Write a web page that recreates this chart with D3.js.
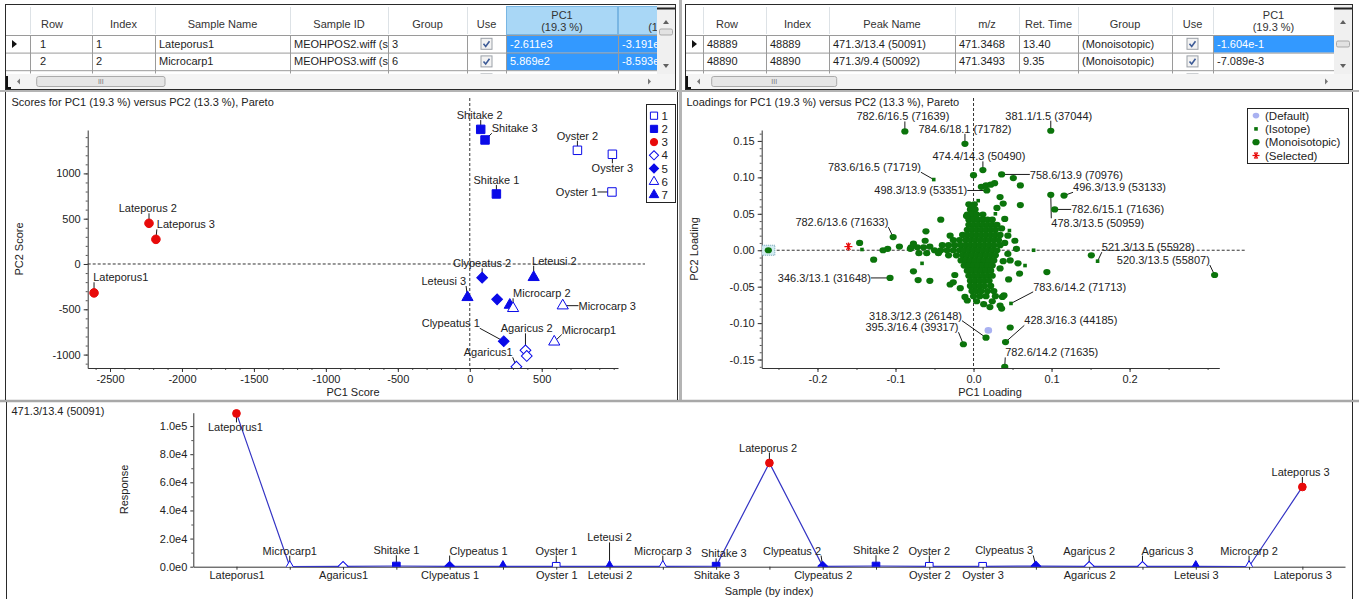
<!DOCTYPE html>
<html>
<head>
<meta charset="utf-8">
<script src="https://cdn.jsdelivr.net/npm/d3@7"></script>
<style>
  body { margin: 0; background: #fff; }
  svg { display: block; }
</style>
</head>
<body>
<svg id="chart" width="1359" height="599"></svg>
<script>
// ---------- data ----------
const sampleNames = ["Lateporus1", "Microcarp1", "Agaricus1", "Shitake 1", "Clypeatus 1", "Leteusi 1", "Oyster 1",
  "Leteusi 2", "Microcarp 3", "Shitake 3", "Lateporus 2", "Clypeatus 2", "Shitake 2", "Oyster 2", "Oyster 3",
  "Clypeatus 3", "Agaricus 2", "Agaricus 3", "Leteusi 3", "Microcarp 2", "Lateporus 3"];
const sampleGroups = [3, 6, 4, 2, 5, 7, 1, 7, 6, 2, 3, 5, 2, 1, 1, 5, 4, 4, 7, 6, 3];
const pc1Scores = [-2611, 587, 324, 185, 236, 278, 988, 444, 646, 106, -2229, 86, 76, 748, 991, 190, 387, 396, -16, 301, -2181];
const pc2Scores = [-319, -859, -1133, 773, -853, -453, 795, -147, -460, 1369, 449, -151, 1486, 1255, 1211, -390, -953, -1015, -368, -489, 272];
const responses = [109000, 150, 250, 500, 300, 200, 300, 200, 250, 400, 73800, 300, 500, 300, 300, 400, 250, 250, 200, 150, 56700];
const groupKeys = [1, 2, 3, 4, 5, 6, 7];

const scoreTicksX = [-2500, -2000, -1500, -1000, -500, 0, 500];
const scoreTicksY = [-1000, -500, 0, 500, 1000];
const loadTicksX = [-0.2, -0.1, 0, 0.1, 0.2];
const loadTicksY = [-0.15, -0.1, -0.05, 0, 0.05, 0.1, 0.15];
const respTicks = [0, 20000, 40000, 60000, 80000, 100000];
const sampleTickIdx = [1, 3, 5, 7, 8, 10, 12, 14, 15, 17, 19, 21];

// labelled loadings: name, PC1, PC2, kind (m = monoisotopic, i = isotope)
const namedLoadings = [
  ["782.6/16.5 (71639)", -0.088, 0.163, "m"],
  ["784.6/18.1 (71782)", -0.011, 0.146, "m"],
  ["381.1/1.5 (37044)", 0.099, 0.164, "m"],
  ["474.4/14.3 (50490)", 0.012, 0.110, "m"],
  ["783.6/16.5 (71719)", -0.051, 0.097, "i"],
  ["498.3/13.9 (53351)", 0.017, 0.082, "m"],
  ["758.6/13.9 (70976)", 0.036, 0.104, "m"],
  ["496.3/13.9 (53133)", 0.116, 0.075, "m"],
  ["782.6/15.1 (71636)", 0.104, 0.056, "m"],
  ["478.3/13.5 (50959)", 0.099, 0.076, "m"],
  ["782.6/13.6 (71633)", -0.103, 0.018, "m"],
  ["346.3/13.1 (31648)", -0.107, -0.038, "m"],
  ["521.3/13.5 (55928)", 0.159, -0.015, "i"],
  ["520.3/13.5 (55807)", 0.309, -0.034, "m"],
  ["783.6/14.2 (71713)", 0.048, -0.073, "i"],
  ["428.3/16.3 (44185)", 0.041, -0.126, "m"],
  ["782.6/14.2 (71635)", 0.040, -0.160, "m"],
  ["318.3/12.3 (26148)", 0.016, -0.120, "m"],
  ["395.3/16.4 (39317)", -0.013, -0.129, "m"]
];

// scattered unlabelled loadings
const otherLoadings = [
  [-0.263, 0.000, "m"], [-0.146, 0.010, "m"], [-0.143, 0.001, "i"], [-0.128, -0.013, "m"], [-0.116, 0.000, "m"],
  [-0.110, 0.002, "m"], [-0.095, 0.005, "m"], [-0.081, 0.002, "m"], [-0.077, 0.009, "m"], [-0.062, 0.013, "m"],
  [-0.061, 0.026, "m"], [-0.056, 0.005, "m"], [-0.042, 0.042, "m"], [-0.077, -0.029, "m"], [-0.071, -0.041, "m"],
  [-0.056, -0.042, "m"], [-0.066, -0.018, "i"], [-0.030, -0.047, "m"], [-0.024, -0.034, "m"], [-0.011, -0.064, "m"],
  [-0.008, -0.069, "m"], [0.013, -0.074, "m"], [0.021, -0.078, "m"], [0.034, -0.076, "m"], [0.037, -0.064, "m"],
  [0.000, 0.103, "m"], [0.010, 0.087, "m"], [0.016, 0.089, "m"], [0.022, 0.090, "m"], [0.027, 0.092, "m"],
  [0.051, 0.099, "m"], [0.060, 0.089, "m"], [0.060, 0.062, "m"], [0.038, 0.064, "m"], [0.040, 0.043, "m"],
  [0.046, 0.027, "i"], [0.053, 0.013, "m"], [0.055, 0.002, "m"], [0.077, 0.000, "i"], [0.047, -0.014, "m"],
  [0.057, -0.018, "m"], [0.066, -0.021, "i"], [0.059, -0.032, "m"], [0.094, -0.030, "m"], [0.039, -0.062, "m"],
  [0.036, -0.080, "m"], [0.047, -0.106, "m"], [0.151, -0.007, "m"], [0.034, 0.073, "m"], [0.006, 0.068, "i"],
  [-0.009, 0.047, "m"], [-0.002, 0.059, "m"], [0.028, 0.050, "i"], [0.030, 0.058, "m"], [-0.030, 0.020, "m"],
  [0.044, 0.020, "m"], [0.044, -0.005, "m"], [0.045, -0.040, "m"], [0.040, 0.010, "m"], [0.038, -0.015, "m"],
  [0.036, 0.030, "m"], [0.034, -0.025, "m"], [-0.017, -0.052, "m"], [-0.026, -0.044, "m"]
];

// dense centre of the loadings cloud, row by row: [PC2, [PC1 values]]
const coreLoadingRows = [
  [0.063, [-0.006, 0.001]],
  [0.056, [-0.004, 0.002]],
  [0.049, [-0.008, -0.002, 0.004, 0.012]],
  [0.042, [-0.006, 0.000, 0.006, 0.012, 0.018, 0.024]],
  [0.035, [-0.006, 0.000, 0.006, 0.012, 0.018, 0.024, 0.030]],
  [0.028, [-0.008, -0.002, 0.004, 0.010, 0.016, 0.022, 0.028]],
  [0.021, [-0.014, -0.008, -0.002, 0.004, 0.010, 0.016, 0.022, 0.028, 0.034]],
  [0.014, [-0.026, -0.018, -0.010, -0.004, 0.002, 0.008, 0.014, 0.020, 0.026, 0.032]],
  [0.007, [-0.040, -0.032, -0.024, -0.016, -0.010, -0.004, 0.002, 0.008, 0.014, 0.020, 0.026, 0.034]],
  [0.004, [-0.080, -0.072, -0.064]],
  [0.000, [-0.050, -0.042, -0.034, -0.026, -0.018, -0.012, -0.006, 0.000, 0.006, 0.012, 0.018, 0.024, 0.030]],
  [-0.004, [-0.070, -0.060, -0.045]],
  [-0.007, [-0.032, -0.022, -0.014, -0.008, -0.002, 0.004, 0.010, 0.016, 0.022, 0.028]],
  [-0.014, [-0.016, -0.010, -0.004, 0.002, 0.008, 0.014, 0.020, 0.026]],
  [-0.021, [-0.012, -0.006, 0.000, 0.006, 0.012, 0.018, 0.024]],
  [-0.028, [-0.008, -0.002, 0.004, 0.010, 0.016, 0.022]],
  [-0.035, [-0.006, 0.000, 0.006, 0.012, 0.018, 0.024]],
  [-0.042, [-0.004, 0.002, 0.008, 0.014, 0.020]],
  [-0.049, [-0.004, 0.002, 0.008, 0.014, 0.022]],
  [-0.056, [-0.002, 0.004, 0.010, 0.018, 0.026]],
  [-0.063, [0.000, 0.008, 0.016, 0.028]],
  [-0.070, [0.004, 0.024]]
];
const defaultLoading = [0.019, -0.110];
const selectedLoading = [-0.1604, 0.005];
const loadingKinds = ["(Default)", "(Isotope)", "(Monoisotopic)", "(Selected)"];

const sampleHeaders = ["", "Row", "Index", "Sample Name", "Sample ID", "Group", "Use", "PC1\n(19.3 %)", "PC2\n(13.3 %)"];
const sampleRows = [
  ["1", "1", "Lateporus1", "MEOHPOS2.wiff (s", "3", true, "-2.611e3", "-3.191e2"],
  ["2", "2", "Microcarp1", "MEOHPOS3.wiff (s", "6", true, "5.869e2", "-8.593e2"]
];
const peakHeaders = ["", "Row", "Index", "Peak Name", "m/z", "Ret. Time", "Group", "Use", "PC1\n(19.3 %)"];
const peakRows = [
  ["48889", "48889", "471.3/13.4 (50091)", "471.3468", "13.40", "(Monoisotopic)", true, "-1.604e-1"],
  ["48890", "48890", "471.3/9.4 (50092)", "471.3493", "9.35", "(Monoisotopic)", true, "-7.089e-3"]
];

// ---------- layout (label offsets in px from their point) ----------
const scoreLabelPos = {
  "Lateporus1": [26.7, -15.6], "Lateporus 2": [-1.2, -15], "Lateporus 3": [30, -15],
  "Shitake 2": [-1, -14.3], "Shitake 3": [29.7, -11.7], "Oyster 2": [0, -14.6], "Oyster 3": [0, 14],
  "Shitake 1": [0, -14], "Oyster 1": [-35.3, 0], "Clypeatus 2": [0, -14.4], "Leteusi 2": [20.7, -16.6],
  "Leteusi 3": [-23.7, -16.3], "Microcarp 2": [28.7, -15], "Microcarp 3": [44.5, 0], "Clypeatus 1": [-53, -18],
  "Agaricus 2": [1.3, -22], "Microcarp1": [34.7, -12.3], "Agaricus1": [-28.2, -14.4]
};
const loadLabelPos = [[-2, -15], [0, -15], [-2, -15], [-4, -13.7], [-59.3, -12.3], [-66, 0], [74.7, 1], [55.5, -8.3],
  [63, -0.7], [47, 28.4], [-51.3, -15], [-65.7, 0], [50.7, -14], [-51.3, -15], [68.7, -16.6], [65.3, -21.7],
  [47, -14.4], [-70.5, -22], [-51.4, -17]];
const respLabelPos = { 1: [-1, 14], 2: [0, -15.7], 4: [0, -15.7], 5: [29, -15.7], 7: [0, -15.7], 8: [0, -29],
  9: [0, -15.7], 10: [7.7, -12.7], 11: [-1.3, -15.4], 12: [-30.7, -15.7], 13: [0, -15.7], 14: [0, -15.7],
  16: [-31.7, -15.7], 17: [0, -15.7], 18: [25, -15.7], 20: [0, -15.7], 21: [-1.7, -15] };

const FONT = '"Liberation Sans", Arial, Helvetica, sans-serif';
const BLUE = "#0a0ae8", RED = "#e80a0a", GREEN = "#0b740b";
const svg = d3.select("#chart").attr("font-family", FONT);
svg.append("rect").attr("width", 1359).attr("height", 599).attr("fill", "#fff");
const defs = svg.append("defs");

function txt(parent, x, y, s, anchor = "start", size = 11, fill = "#222") {
  return parent.append("text").attr("x", x).attr("y", y).attr("font-size", size)
    .attr("fill", fill).attr("text-anchor", anchor).attr("dominant-baseline", "central").text(s);
}

function clip(id, x, y, w, h) {
  defs.append("clipPath").attr("id", id).append("rect").attr("x", x).attr("y", y).attr("width", w).attr("height", h);
  return `url(#${id})`;
}

function drawAxis(parent, orient, scale, pos, major, fmt, minor, size = 4) {
  const mk = orient === "bottom" ? d3.axisBottom : d3.axisLeft;
  const tr = orient === "bottom" ? `translate(0,${pos})` : `translate(${pos},0)`;
  if (minor) {
    const m = parent.append("g").attr("transform", tr)
      .call(mk(scale).tickValues(minor).tickSize(2).tickFormat("").tickSizeOuter(0));
    m.select(".domain").remove();
    m.selectAll("line").attr("stroke", "#555");
  }
  const g = parent.append("g").attr("transform", tr)
    .call(mk(scale).tickValues(major).tickFormat(fmt).tickSize(size).tickPadding(3).tickSizeOuter(0));
  g.attr("font-family", FONT).attr("font-size", 11);
  g.select(".domain").attr("stroke", "#333");
  g.selectAll(".tick line").attr("stroke", "#333");
  g.selectAll(".tick text").attr("fill", "#222");
  return g;
}

const groupStyle = {
  1: { shape: "square", filled: false }, 2: { shape: "square", filled: true },
  3: { shape: "circle", filled: true, color: RED }, 4: { shape: "diamond", filled: false },
  5: { shape: "diamond", filled: true }, 6: { shape: "triangle", filled: false },
  7: { shape: "triangle", filled: true }
};
function marker(parent, grp, x, y, k = 1) {
  const st = groupStyle[grp];
  const col = st.color || BLUE;
  let d, rot = 0;
  if (st.shape === "square") d = d3.symbol(d3.symbolSquare, 72 * k * k)();
  else if (st.shape === "circle") d = d3.symbol(d3.symbolCircle, 58 * k * k)();
  else if (st.shape === "diamond") { d = d3.symbol(d3.symbolSquare, 58 * k * k)(); rot = 45; }
  else d = d3.symbol(d3.symbolTriangle, 54 * k * k)();
  parent.append("path").attr("d", d).attr("transform", `translate(${x},${y}) rotate(${rot})`)
    .attr("fill", st.filled ? col : "#fff").attr("stroke", col).attr("stroke-width", 1);
}

// label with a leader line from the point to the nearest edge of the text
function callout(labelLayer, leaderLayer, px, py, s, off) {
  const t = txt(labelLayer, px + off[0], py + off[1], s, "middle");
  const b = t.node().getBBox();
  const nx = Math.max(b.x, Math.min(px, b.x + b.width));
  const ny = Math.max(b.y + 1, Math.min(py, b.y + b.height - 1));
  if (Math.hypot(nx - px, ny - py) > 2) {
    leaderLayer.append("line").attr("x1", px).attr("y1", py).attr("x2", nx).attr("y2", ny)
      .attr("stroke", "#1a1a1a").attr("stroke-width", 1);
  }
}

// ---------- tables ----------
function drawTable(t) {
  const g = svg.append("g");
  const x0 = t.edges[0], right = t.viewRight;
  const body = g.append("g").attr("clip-path", clip("tc" + t.id, x0, 5, right - x0, 68.5));
  const hdrBot = 35, rowH = 17.6;
  t.headers.forEach((h, i) => {
    const a = t.edges[i], b = t.edges[i + 1];
    const hi = t.hiHeader.includes(i);
    body.append("rect").attr("x", a + 0.5).attr("y", 6.5).attr("width", b - a - 1).attr("height", hdrBot - 7)
      .attr("fill", hi ? "#a9d7f6" : "#fff").attr("stroke", hi ? "#79b6e3" : "none");
    if (i > 0 && !hi) body.append("line").attr("x1", a + 0.5).attr("x2", a + 0.5).attr("y1", 7).attr("y2", 34)
      .attr("stroke", "#dde2e6");
    const lines = h.split("\n");
    const cx = (t.headerCx && t.headerCx[i] != null) ? t.headerCx[i] : (a + b) / 2;
    lines.forEach((ln, k) => txt(body, cx, lines.length > 1 ? 15 + k * 11.5 : 24, ln, "middle", 11, "#333"));
  });
  const rows = t.rows.concat([[]]);
  rows.forEach((row, ri) => {
    const y0 = hdrBot + ri * rowH;
    if (ri === 0) body.append("path").attr("d", `M${x0 + 7},${y0 + 5} l5,4 l-5,4 z`).attr("fill", "#111");
    for (let c = 1; c < t.edges.length - 1; c++) {
      const a = t.edges[c], b = t.edges[c + 1];
      const v = row[c - 1];
      const hi = (t.hiCells[ri] || []).includes(c);
      if (hi) body.append("rect").attr("x", a).attr("y", y0).attr("width", b - a).attr("height", rowH).attr("fill", "#3399ff");
      if (v === true || (ri === rows.length - 1 && t.headers[c] === "Use")) {
        const cx = (a + b) / 2, cy = y0 + rowH / 2;
        body.append("rect").attr("x", cx - 5.5).attr("y", cy - 5.5).attr("width", 11).attr("height", 11)
          .attr("fill", "#f3f3f3").attr("stroke", "#9ba1a8");
        if (v === true) body.append("path").attr("d", `M${cx - 3},${cy} l2.2,2.6 l3.8,-5.2`).attr("fill", "none")
          .attr("stroke", "#3d5b97").attr("stroke-width", 1.6);
      } else if (v != null) {
        const pad = (t.pad && t.pad[c]) || 4;
        txt(body, a + pad, y0 + rowH / 2, v, "start", 11, hi ? "#fff" : "#1e1e1e");
      }
    }
    body.append("line").attr("x1", x0).attr("x2", right).attr("y1", y0 + 0.5).attr("y2", y0 + 0.5).attr("stroke", "#9a9a9a");
  });
  t.edges.slice(1, -1).forEach(e => body.append("line").attr("x1", e + 0.5).attr("x2", e + 0.5)
    .attr("y1", hdrBot).attr("y2", 74).attr("stroke", "#9a9a9a"));

  // vertical scrollbar
  const vs = g.append("g");
  vs.append("rect").attr("x", right).attr("y", 5).attr("width", 18).attr("height", 69).attr("fill", "#f0f0f0");
  vs.append("path").attr("d", `M${right + 6},${t.upY + 2} l3,-4 l3,4 z`).attr("fill", "#606060");
  vs.append("path").attr("d", `M${right + 6},${64} l3,4 l3,-4 z`).attr("fill", "#606060");
  vs.append("rect").attr("x", right + 2.5).attr("y", t.thumbY).attr("width", 13).attr("height", 6).attr("rx", 1.5)
    .attr("fill", "#e2e2e2").attr("stroke", "#a9a9a9");
  vs.append("line").attr("x1", right).attr("x2", right + 18).attr("y1", 8.5).attr("y2", 8.5).attr("stroke", "#222").attr("stroke-width", 2);

  // horizontal scrollbar
  const hs = g.append("g");
  hs.append("rect").attr("x", x0 + 1).attr("y", 74).attr("width", right + 18 - x0 - 1).attr("height", 15).attr("fill", "#f4f4f4");
  hs.append("path").attr("d", `M${x0 + 12},81.5 l3,-3 l0,6 z`).attr("fill", "#777");
  hs.append("path").attr("d", `M${right - 6},81.5 l-3,-3 l0,6 z`).attr("fill", "#777");
  hs.append("rect").attr("x", t.hThumb[0]).attr("y", 76.5).attr("width", t.hThumb[1] - t.hThumb[0]).attr("height", 10)
    .attr("rx", 2).attr("fill", "#e6e6e6").attr("stroke", "#ababab");
  txt(hs, (t.hThumb[0] + t.hThumb[1]) / 2, 81.5, "III", "middle", 7, "#777");
  hs.append("path").attr("d", `M${x0 + 2},76 L${x0 + 2},88 L${x0 + 6},88`).attr("fill", "none").attr("stroke", "#111").attr("stroke-width", 2);

  // frame
  g.append("rect").attr("x", x0 + 0.5).attr("y", 4.5).attr("width", right + 18 - x0).attr("height", 85)
    .attr("fill", "none").attr("stroke", "#2a2a2a");
}

drawTable({
  id: "s", edges: [5, 30, 92, 155, 290, 388, 467, 506, 618, 720], viewRight: 657,
  headers: sampleHeaders, rows: sampleRows, hiHeader: [7, 8], hiCells: { 0: [7, 8], 1: [7, 8] },
  headerCx: { 1: 52 }, pad: { 1: 10 }, upY: 22, thumbY: 29, hThumb: [36.7, 165]
});
drawTable({
  id: "p", edges: [685, 703, 766, 829, 955, 1019, 1078, 1172, 1213, 1334], viewRight: 1334,
  headers: peakHeaders, rows: peakRows, hiHeader: [], hiCells: { 0: [8] },
  headerCx: { 1: 727 }, upY: 22, thumbY: 41, hThumb: [711.7, 836.7]
});

// ---------- pane frames ----------
const frame = svg.append("g").attr("stroke-width", 1).attr("fill", "none");
frame.append("line").attr("x1", 0).attr("x2", 1359).attr("y1", 91).attr("y2", 91).attr("stroke", "#b4b4b4").attr("stroke-width", 2);
frame.append("line").attr("x1", 680.5).attr("x2", 680.5).attr("y1", 0).attr("y2", 401).attr("stroke", "#b4b4b4").attr("stroke-width", 3);
frame.append("line").attr("x1", 0).attr("x2", 1359).attr("y1", 401).attr("y2", 401).attr("stroke", "#a8a8a8").attr("stroke-width", 2.5);
frame.append("line").attr("x1", 5.5).attr("x2", 5.5).attr("y1", 92).attr("y2", 400).attr("stroke", "#2a2a2a");
frame.append("line").attr("x1", 677.5).attr("x2", 677.5).attr("y1", 92).attr("y2", 400).attr("stroke", "#2a2a2a");
frame.append("line").attr("x1", 1352.5).attr("x2", 1352.5).attr("y1", 92).attr("y2", 400).attr("stroke", "#2a2a2a");
frame.append("line").attr("x1", 6.5).attr("x2", 6.5).attr("y1", 402).attr("y2", 599).attr("stroke", "#2a2a2a");
frame.append("line").attr("x1", 1352.5).attr("x2", 1352.5).attr("y1", 402).attr("y2", 599).attr("stroke", "#2a2a2a");

// ---------- scores plot ----------
const sc = svg.append("g");
txt(sc, 11.5, 101.5, "Scores for PC1 (19.3 %) versus PC2 (13.3 %), Pareto");
const sx = d3.scaleLinear().domain([-2655, 1030]).range([87.7, 618]);
const sy = d3.scaleLinear().domain([-1148, 1479]).range([368, 130]);
drawAxis(sc, "bottom", sx, 368, scoreTicksX, d => String(d), d3.range(-2600, 1001, 100));
drawAxis(sc, "left", sy, 87.7, scoreTicksY, d => String(d), d3.range(-1100, 1401, 100));
txt(sc, 353, 391.5, "PC1 Score", "middle");
txt(sc, 0, 0, "PC2 Score", "middle").attr("transform", "translate(18.5,249) rotate(-90)");
sc.append("line").attr("x1", 87.7).attr("x2", 645).attr("y1", sy(0)).attr("y2", sy(0))
  .attr("stroke", "#333").attr("stroke-dasharray", "3,2");
sc.append("line").attr("x1", sx(0)).attr("x2", sx(0)).attr("y1", 98).attr("y2", 368)
  .attr("stroke", "#333").attr("stroke-dasharray", "3,2");
const scLead = sc.append("g");
const scPts = sc.append("g").attr("clip-path", clip("scClip", 88, 96, 557, 272));
const scLab = sc.append("g");
sampleNames.forEach((n, i) => {
  const px = sx(pc1Scores[i]), py = sy(pc2Scores[i]);
  marker(scPts, sampleGroups[i], px, py);
  if (scoreLabelPos[n]) callout(scLab, scLead, px, py, n, scoreLabelPos[n]);
});
// legend
const sl = sc.append("g");
sl.append("rect").attr("x", 646.5).attr("y", 104.5).attr("width", 29).attr("height", 98).attr("fill", "#fff").attr("stroke", "#222");
groupKeys.forEach((k, i) => {
  const yy = 115.7 + i * 13.2;
  marker(sl, k, 654, yy, 0.85);
  txt(sl, 661.5, yy, String(k), "start", 11.5);
});

// ---------- loadings plot ----------
const ld = svg.append("g");
txt(ld, 686.5, 101.5, "Loadings for PC1 (19.3 %) versus PC2 (13.3 %), Pareto");
const lx = d3.scaleLinear().domain([-0.2715, 0.315]).range([761.7, 1219.3]);
const ly = d3.scaleLinear().domain([-0.1616, 0.165]).range([368, 130]);
drawAxis(ld, "bottom", lx, 368, loadTicksX, d => d.toFixed(1), d3.range(-0.25, 0.31, 0.05));
drawAxis(ld, "left", ly, 761.7, loadTicksY, d => d.toFixed(2), d3.range(-0.16, 0.161, 0.01));
txt(ld, 990, 391.5, "PC1 Loading", "middle");
txt(ld, 0, 0, "PC2 Loading", "middle").attr("transform", "translate(693.5,249) rotate(-90)");
ld.append("line").attr("x1", 761.7).attr("x2", 1246.7).attr("y1", ly(0)).attr("y2", ly(0))
  .attr("stroke", "#333").attr("stroke-dasharray", "3,2");
ld.append("line").attr("x1", lx(0)).attr("x2", lx(0)).attr("y1", 98).attr("y2", 368)
  .attr("stroke", "#333").attr("stroke-dasharray", "3,2");
const ldLead = ld.append("g");
const ldPts = ld.append("g").attr("clip-path", clip("ldClip", 762, 96, 485, 272));
const ldLab = ld.append("g");
ldPts.append("rect").attr("x", lx(-0.263) - 6.5).attr("y", ly(0) - 5).attr("width", 13).attr("height", 10)
  .attr("fill", "#d3ecf3").attr("stroke", "#6f9fb0").attr("stroke-dasharray", "1,1");
function loadingMark(parent, x, y, kind) {
  if (kind === "i") parent.append("rect").attr("x", x - 1.8).attr("y", y - 1.8).attr("width", 3.6).attr("height", 3.6).attr("fill", GREEN);
  else parent.append("ellipse").attr("cx", x).attr("cy", y).attr("rx", 3.6).attr("ry", 3.1).attr("fill", GREEN);
}
coreLoadingRows.forEach(([yv, xs]) => xs.forEach(xv => loadingMark(ldPts, lx(xv), ly(yv), "m")));
otherLoadings.forEach(([xv, yv, k]) => loadingMark(ldPts, lx(xv), ly(yv), k));
namedLoadings.forEach(([n, xv, yv, k], i) => {
  const px = lx(xv), py = ly(yv);
  loadingMark(ldPts, px, py, k);
  callout(ldLab, ldLead, px, py, n, loadLabelPos[i]);
});
ldPts.append("ellipse").attr("cx", lx(defaultLoading[0])).attr("cy", ly(defaultLoading[1])).attr("rx", 3.8).attr("ry", 3.3).attr("fill", "#a9b1f1");
function asterisk(parent, x, y, r) {
  [0, 60, 120].forEach(a => parent.append("line").attr("x1", x - r).attr("x2", x + r).attr("y1", y).attr("y2", y)
    .attr("transform", `rotate(${a},${x},${y})`).attr("stroke", RED).attr("stroke-width", 1.2));
  parent.append("line").attr("x1", x).attr("x2", x).attr("y1", y - r).attr("y2", y + r).attr("stroke", RED).attr("stroke-width", 1.2);
}
asterisk(ldPts, lx(selectedLoading[0]), ly(selectedLoading[1]), 4);
// legend
const ll = ld.append("g");
ll.append("rect").attr("x", 1247.5).attr("y", 108.5).attr("width", 101).attr("height", 55).attr("fill", "#fff").attr("stroke", "#222");
loadingKinds.forEach((k, i) => {
  const yy = 115.6 + i * 13.3, xx = 1256;
  if (i === 0) ll.append("ellipse").attr("cx", xx).attr("cy", yy).attr("rx", 3.3).attr("ry", 2.8).attr("fill", "#a9b1f1");
  else if (i === 1) loadingMark(ll, xx, yy, "i");
  else if (i === 2) loadingMark(ll, xx, yy, "m");
  else asterisk(ll, xx, yy, 3.5);
  txt(ll, 1265, yy, k, "start", 11.5);
});

// ---------- response profile ----------
const rp = svg.append("g");
txt(rp, 11.5, 411, "471.3/13.4 (50091)");
const bx = d3.scaleLinear().domain([0.19, 21.8]).range([193.3, 1345]);
const by = d3.scaleLinear().domain([0, 109500]).range([566.7, 412.7]);
const sampleIdx = sampleNames.map((n, i) => i + 1);
drawAxis(rp, "left", by, 193.3, respTicks, d => d === 0 ? "0.0e0" : d.toExponential(1).replace("e+", "e"),
  d3.range(10000, 109500, 20000), 3);
const xa = rp.append("g").attr("transform", "translate(0,566.7)")
  .call(d3.axisBottom(bx).tickValues(sampleIdx).tickSize(3).tickSizeOuter(0)
    .tickFormat(d => sampleTickIdx.includes(d) ? sampleNames[d - 1] : ""));
xa.attr("font-family", FONT).attr("font-size", 11);
xa.select(".domain").attr("stroke", "#333");
xa.selectAll(".tick line").attr("stroke", "#333");
xa.selectAll(".tick text").attr("fill", "#222").attr("dy", "0.6em");
txt(rp, 769, 591, "Sample (by index)", "middle");
txt(rp, 0, 0, "Response", "middle").attr("transform", "translate(123.5,489.5) rotate(-90)");
const rpLead = rp.append("g");
rp.append("path").datum(responses)
  .attr("d", d3.line().x((d, i) => bx(i + 1)).y(d => by(d)))
  .attr("fill", "none").attr("stroke", "#3434c4").attr("stroke-width", 1.2);
const rpPts = rp.append("g").attr("clip-path", clip("rpClip", 194, 404, 1151, 162.7));
const rpLab = rp.append("g");
responses.forEach((v, i) => {
  const px = bx(i + 1), py = by(v);
  marker(rpPts, sampleGroups[i], px, py, 0.9);
  if (respLabelPos[i + 1]) callout(rpLab, rpLead, px, py, sampleNames[i], respLabelPos[i + 1]);
});
</script>
</body>
</html>
